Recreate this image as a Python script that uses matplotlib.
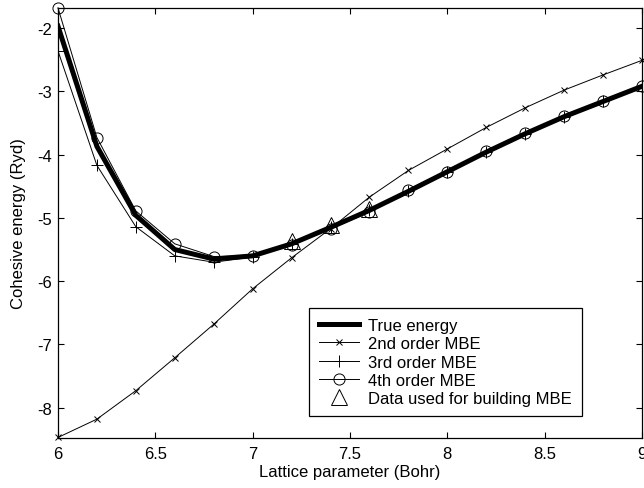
import matplotlib
matplotlib.use("Agg")
import matplotlib.pyplot as plt

plt.rcParams['font.family'] = ['Liberation Sans', 'DejaVu Sans']
plt.rcParams['font.size'] = 12

# lattice parameter (Bohr)
x = [6.0, 6.2, 6.4, 6.6, 6.8, 7.0, 7.2, 7.4, 7.6, 7.8, 8.0, 8.2, 8.4, 8.6, 8.8, 9.0]

true_energy = [-1.97, -3.87, -4.96, -5.50, -5.65, -5.60, -5.41, -5.15,
               -4.88, -4.58, -4.27, -3.96, -3.67, -3.40, -3.16, -2.92]
mbe2 = [-8.47, -8.18, -7.73, -7.21, -6.68, -6.12, -5.63, -5.17,
        -4.67, -4.25, -3.91, -3.57, -3.26, -2.98, -2.74, -2.51]
mbe3 = [-2.36, -4.17, -5.14, -5.60, -5.70, -5.62, -5.42, -5.15,
        -4.88, -4.58, -4.27, -3.96, -3.67, -3.40, -3.16, -2.92]
mbe4 = [-1.68, -3.73, -4.89, -5.41, -5.61, -5.60, -5.43, -5.17,
        -4.91, -4.56, -4.27, -3.95, -3.66, -3.39, -3.15, -2.92]

# points used for building the MBE
fit_x = [7.2, 7.4, 7.6]
fit_y = [-5.37, -5.12, -4.86]

fig = plt.figure(figsize=(6.44, 4.89), dpi=100)
ax = fig.add_axes([0.090, 0.102, 0.907, 0.880])

ax.plot(x, true_energy, color='black', linewidth=3.6, label='True energy',
        solid_joinstyle='round')
ax.plot(x, mbe2, color='black', linewidth=0.7, marker='x', markersize=5,
        markeredgewidth=0.7, label='2nd order MBE', clip_on=False)
ax.plot(x, mbe3, color='black', linewidth=0.7, marker='+', markersize=9,
        markeredgewidth=0.7, label='3rd order MBE')
ax.plot(x, mbe4, color='black', linewidth=0.7, marker='o', markersize=8,
        markeredgewidth=0.7, fillstyle='none', label='4th order MBE', clip_on=False)
ax.plot(fit_x, fit_y, linestyle='none', color='black', marker='^', markersize=11,
        markeredgewidth=0.7, fillstyle='none', label='Data used for building MBE')

ax.set_xlim(6, 9)
ax.set_ylim(-8.48, -1.68)
ax.set_xticks([6, 6.5, 7, 7.5, 8, 8.5, 9])
ax.set_xticklabels(['6', '6.5', '7', '7.5', '8', '8.5', '9'])
ax.set_yticks([-8, -7, -6, -5, -4, -3, -2])
ax.set_yticklabels(['-8', '-7', '-6', '-5', '-4', '-3', '-2'])

ax.tick_params(direction='in', top=True, right=True, length=4, width=0.8)
ax.tick_params(axis='x', pad=6)
ax.tick_params(axis='y', pad=4)
for s in ax.spines.values():
    s.set_linewidth(0.9)

ax.set_xlabel('Lattice parameter (Bohr)', labelpad=2)
ax.set_ylabel('Cohesive energy (Ryd)', labelpad=8)

leg = ax.legend(loc='lower right', bbox_to_anchor=(0.897, 0.051), borderaxespad=0,
                fancybox=False, framealpha=1, edgecolor='black',
                labelspacing=0.2, handlelength=2.4, handletextpad=0.55,
                borderpad=0.6)
leg.get_frame().set_linewidth(0.9)

fig.savefig('out.png', dpi=100)
